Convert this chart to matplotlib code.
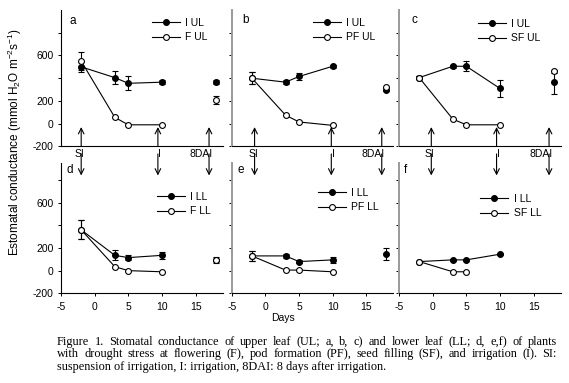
import numpy as np
import matplotlib
matplotlib.use("Agg")
import matplotlib.pyplot as plt
from matplotlib.lines import Line2D

plt.rcParams["font.family"] = ["Liberation Sans", "DejaVu Sans"]
plt.rcParams["mathtext.fontset"] = "custom"
plt.rcParams["mathtext.rm"] = "Liberation Sans"
plt.rcParams["mathtext.it"] = "Liberation Sans:italic"
plt.rcParams["mathtext.default"] = "regular"

# ---- data ----
days = [-2, 3, 5, 10]
dai_day = 18

a_I = [500, 405, 355, 365]
a_I_err = [45, 55, 60, 15]
a_F = [550, 55, -10, -10]
a_F_err = [80, 0, 0, 0]
a_I_dai, a_I_dai_err = 365, 20
a_F_dai, a_F_dai_err = 210, 35

b_I = [400, 365, 415, 505]
b_I_err = [55, 15, 30, 15]
b_PF = [400, 75, 15, -15]
b_PF_err = [55, 0, 0, 0]
b_I_dai, b_I_dai_err = 300, 15
b_PF_dai, b_PF_dai_err = 320, 0

c_I = [405, 505, 505, 310]
c_I_err = [15, 15, 45, 75]
c_SF = [405, 40, -10, -10]
c_SF_err = [15, 0, 0, 0]
c_I_dai, c_I_dai_err = 365, 100
c_SF_dai, c_SF_dai_err = 460, 10

d_I = [360, 135, 115, 135]
d_I_err = [85, 45, 25, 30]
d_F = [360, 35, 0, -10]
d_F_err = [85, 0, 0, 0]
d_I_dai, d_I_dai_err = 95, 25
d_F_dai, d_F_dai_err = 90, 0

e_I = [130, 130, 80, 95]
e_I_err = [45, 15, 15, 25]
e_PF = [130, 5, 5, -10]
e_PF_err = [45, 0, 0, 0]
e_I_dai, e_I_dai_err = 145, 55

f_I = [80, 95, 95, 145]
f_I_err = [0, 10, 10, 10]
f_SF_days = [-2, 3, 5]
f_SF = [80, -10, -10]

ytick_vals = [-200, 0, 200, 400, 600, 800]
ytick_labels = ["-200", "0", "200", "", "600", ""]
xtick_vals = [-5, 0, 5, 10, 15]

# SI, I, 8DAI arrow positions per column
arrow_x = [[-2, 9.4, 17.0], [-1.6, 9.8, 17.3], [-0.2, 9.5, 17.3]]
arrow_txt = ["SI", "I", "8DAI"]

W, H = 569, 383
fig = plt.figure(figsize=(W / 100, H / 100), dpi=100)

col_left = [61, 231.7, 399]
col_w = 161.5
top_row = (10, 146.4)      # top, bottom in px
bot_row = (163, 293.3)


def make_ax(ci, row):
    t, b = row
    return fig.add_axes([col_left[ci] / W, 1 - b / H, col_w / W, (b - t) / H])


def style(ax, ylim, first, bottom):
    ax.set_xlim(-5, 19)
    ax.set_ylim(*ylim)
    for s in ["top", "right"]:
        ax.spines[s].set_visible(False)
    ax.spines["left"].set_linewidth(0.8 if first else 1.4)
    ax.spines["left"].set_color("black" if first else "#9a9a9a")
    ax.spines["bottom"].set_linewidth(0.8)
    ax.set_yticks(ytick_vals)
    if first:
        ax.set_yticklabels(ytick_labels)
    else:
        ax.set_yticklabels([])
    ax.tick_params(axis="y", length=2.5, width=0.7, labelsize=7.5, pad=3)
    if bottom:
        ax.set_xticks(xtick_vals)
        ax.set_xticklabels([str(v) for v in xtick_vals])
        ax.tick_params(axis="x", length=2.5, width=0.7, labelsize=7.5, pad=4)
    else:
        ax.set_xticks([])


def series(ax, x, y, yerr, filled):
    ax.errorbar(x, y, yerr=yerr, fmt="o-", color="black", lw=0.8, ms=4.2,
                mfc="black" if filled else "white", mec="black", mew=0.8,
                elinewidth=0.8, capsize=2, capthick=0.8,
                zorder=3 if filled else 4, clip_on=False)


def point(ax, y, yerr, filled):
    ax.errorbar([dai_day], [y], yerr=[yerr], fmt="o", color="black", ms=4.2,
                mfc="black" if filled else "white", mec="black", mew=0.8,
                elinewidth=0.8, capsize=2, capthick=0.8,
                zorder=3 if filled else 4, clip_on=False)


def legend(ax, labels, x, y):
    handles = [Line2D([], [], color="black", lw=0.8, marker="o", ms=4.2,
                      mfc=fc, mec="black", mew=0.8)
               for fc in ["black", "white"]]
    ax.legend(handles, labels, loc="upper left", bbox_to_anchor=(x, y),
              frameon=False, fontsize=7.5, handlelength=2.7,
              handletextpad=0.5, labelspacing=0.45, borderpad=0,
              borderaxespad=0)


top_ylim = (-200, 1000)
bot_ylim = (-200, 950)

axes_top = [make_ax(i, top_row) for i in range(3)]
axes_bot = [make_ax(i, bot_row) for i in range(3)]
for i, ax in enumerate(axes_top):
    style(ax, top_ylim, i == 0, False)
for i, ax in enumerate(axes_bot):
    style(ax, bot_ylim, i == 0, True)

# a
ax = axes_top[0]
series(ax, days, a_I, a_I_err, True)
series(ax, days, a_F, a_F_err, False)
point(ax, a_I_dai, a_I_dai_err, True)
point(ax, a_F_dai, a_F_dai_err, False)
legend(ax, ["I UL", "F UL"], 0.562, 0.945)

# b
ax = axes_top[1]
series(ax, days, b_I, b_I_err, True)
series(ax, days, b_PF, b_PF_err, False)
point(ax, b_I_dai, b_I_dai_err, True)
point(ax, b_PF_dai, b_PF_dai_err, False)
legend(ax, ["I UL", "PF UL"], 0.504, 0.945)

# c
ax = axes_top[2]
series(ax, days, c_I, c_I_err, True)
series(ax, days, c_SF, c_SF_err, False)
point(ax, c_I_dai, c_I_dai_err, True)
point(ax, c_SF_dai, c_SF_dai_err, False)
legend(ax, ["I UL", "SF UL"], 0.49, 0.937)

# d
ax = axes_bot[0]
series(ax, days, d_I, d_I_err, True)
series(ax, days, d_F, d_F_err, False)
point(ax, d_I_dai, d_I_dai_err, True)
point(ax, d_F_dai, d_F_dai_err, False)
legend(ax, ["I LL", "F LL"], 0.593, 0.78)

# e
ax = axes_bot[1]
series(ax, days, e_I, e_I_err, True)
series(ax, days, e_PF, e_PF_err, False)
point(ax, e_I_dai, e_I_dai_err, True)
legend(ax, ["I LL", "PF LL"], 0.535, 0.81)

# f
ax = axes_bot[2]
series(ax, days, f_I, f_I_err, True)
series(ax, f_SF_days, f_SF, None, False)
legend(ax, ["I LL", "SF LL"], 0.503, 0.765)

# panel letters
for ax, letter, (lx, ly) in zip(axes_top + axes_bot, "abcdef",
                                [(0.055, 0.92), (0.068, 0.927), (0.079, 0.927),
                                 (0.035, 0.948), (0.037, 0.948), (0.031, 0.948)]):
    ax.text(lx, ly, letter, transform=ax.transAxes, fontsize=8.5,
            ha="left", va="center")

# arrows and event labels
for ci in range(3):
    at, ab = axes_top[ci], axes_bot[ci]
    for x, txt in zip(arrow_x[ci], arrow_txt):
        at.annotate("", xy=(x, -30), xytext=(x, -200),
                    arrowprops=dict(arrowstyle="->", lw=0.8, color="black",
                                    shrinkA=0, shrinkB=0),
                    annotation_clip=False)
        ab.annotate("", xy=(x, 840), xytext=(x, 1030),
                    arrowprops=dict(arrowstyle="->", lw=0.8, color="black",
                                    shrinkA=0, shrinkB=0),
                    annotation_clip=False)
        at.text(x + 0.5, -220, txt, ha="right", va="top", fontsize=7.5)

fig.text(15 / W, 1 - 142 / H,
         "Estomatal conductance (mmol H$_2$O m$^{-2}$s$^{-1}$)",
         rotation=90, ha="center", va="center", fontsize=8.5)
fig.text(283 / W, 1 - 318 / H, "Days", ha="center", va="center", fontsize=7.5)

caption = [
    "Figure 1. Stomatal conductance of upper leaf (UL; a, b, c) and lower leaf (LL; d, e,f) of plants",
    "with drought stress at flowering (F), pod formation (PF), seed filling (SF), and irrigation (I). SI:",
    "suspension of irrigation, I: irrigation, 8DAI: 8 days after irrigation.",
]
cap_left, cap_right = 57, 557
cap_kw = dict(ha="left", va="center", fontsize=8.8, family=["Liberation Serif"])
renderer = fig.canvas.get_renderer()
for i, line in enumerate(caption):
    y = 1 - (342 + 12.3 * i) / H
    if i == len(caption) - 1:
        fig.text(cap_left / W, y, line, **cap_kw)
        continue
    # justified line: spread words between the margins
    words = line.split(" ")
    txts = [fig.text(0, y, w, **cap_kw) for w in words]
    widths = [t.get_window_extent(renderer).width for t in txts]
    gap = (cap_right - cap_left - sum(widths)) / (len(words) - 1)
    xpos = cap_left
    for t, w in zip(txts, widths):
        t.set_x(xpos / W)
        xpos += w + gap

fig.savefig("out.png", dpi=100)
